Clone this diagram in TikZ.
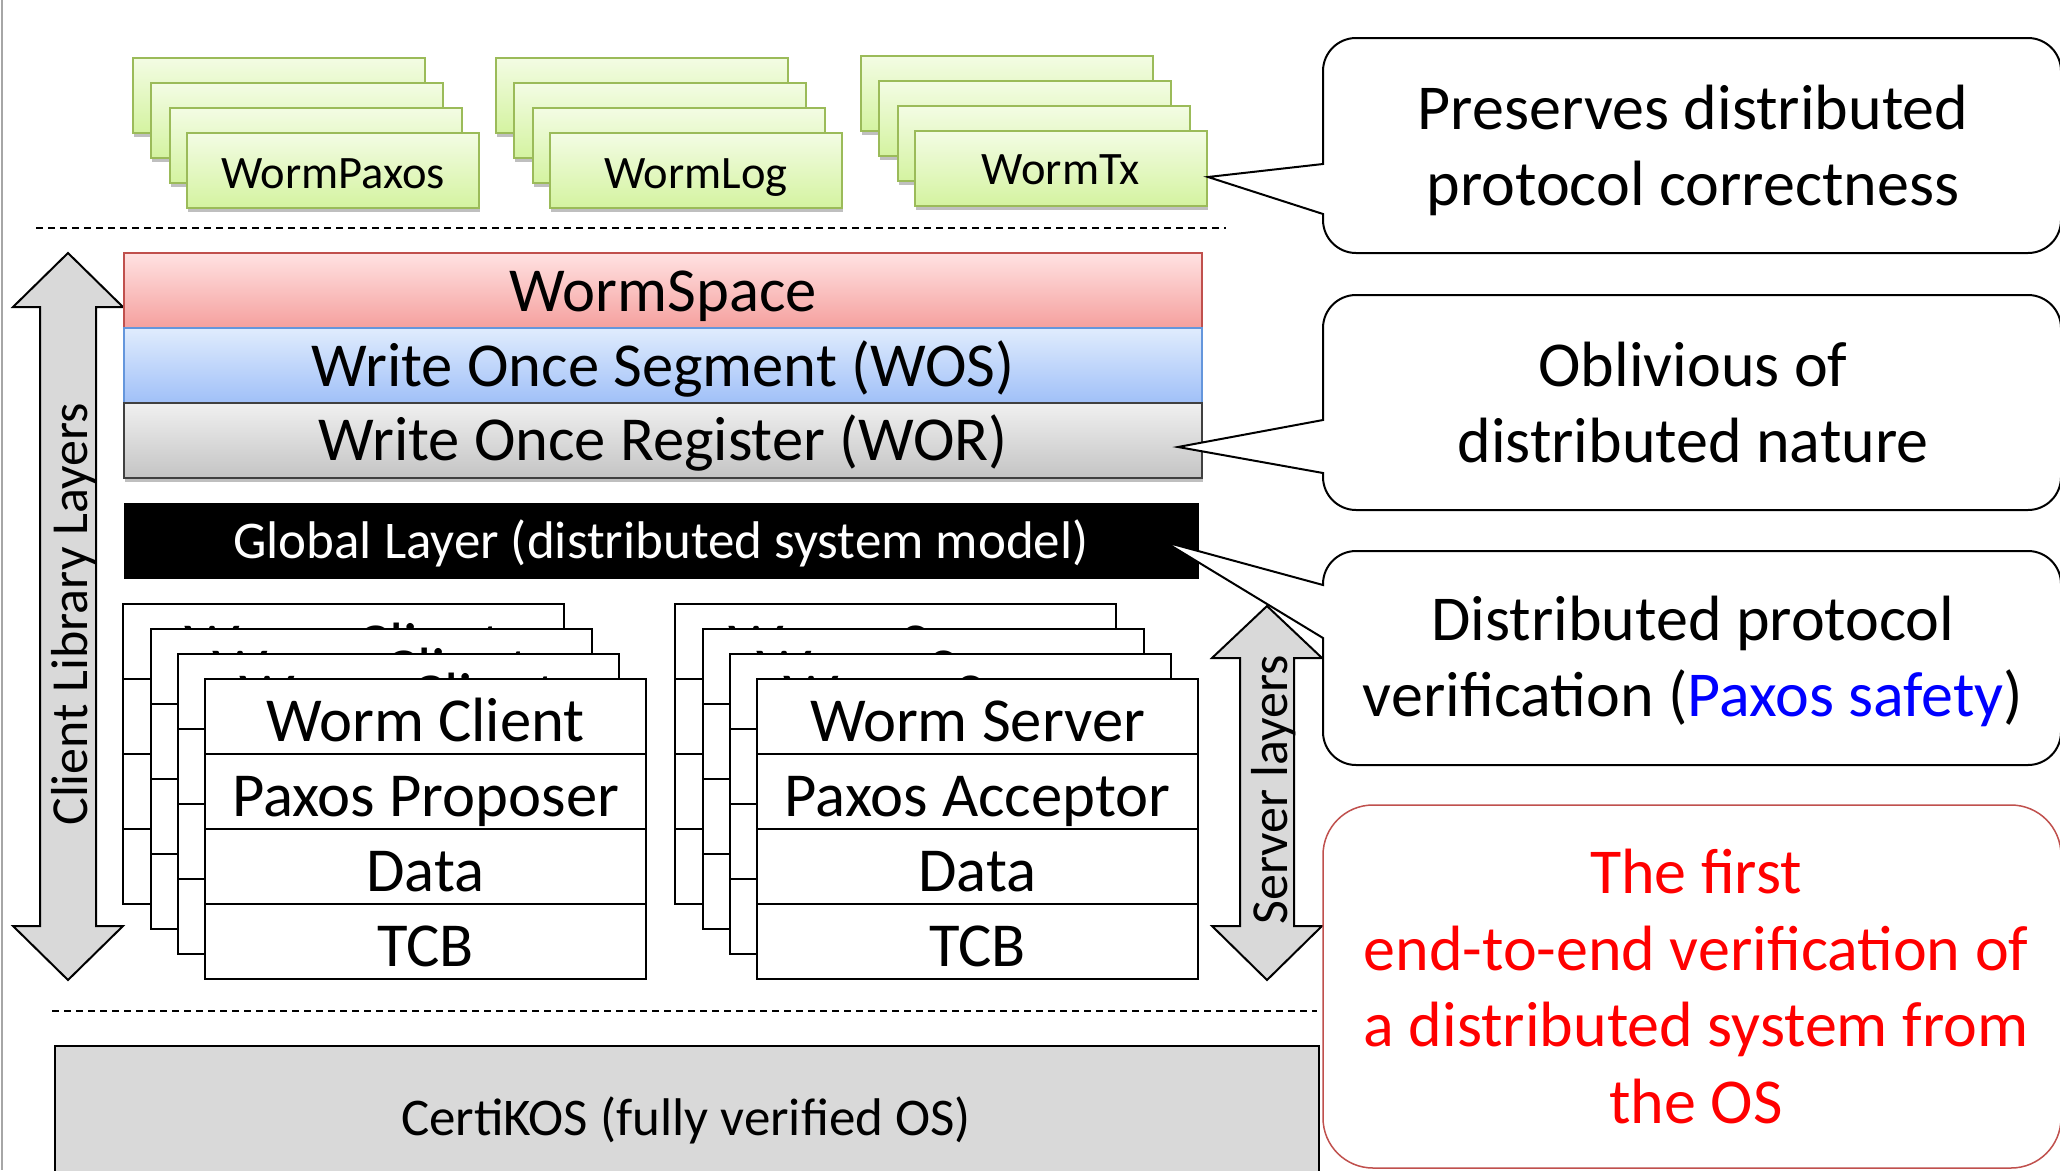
\documentclass[tikz,border=0pt]{standalone}
\usepackage{fontspec}
\setmainfont{Carlito}
\usetikzlibrary{shadows}
\definecolor{grnTop}{RGB}{243,252,228}
\definecolor{grnBot}{RGB}{212,243,160}
\definecolor{grnLine}{RGB}{155,187,89}
\definecolor{redTop}{RGB}{255,226,226}
\definecolor{redBot}{RGB}{245,160,158}
\definecolor{redLine}{RGB}{192,80,77}
\definecolor{bluTop}{RGB}{224,236,253}
\definecolor{bluBot}{RGB}{160,192,248}
\definecolor{bluLine}{RGB}{100,150,220}
\definecolor{gryTop}{RGB}{240,240,240}
\definecolor{gryBot}{RGB}{196,196,196}
\definecolor{arrowFill}{RGB}{217,217,217}
\definecolor{edgeGray}{RGB}{166,166,166}
\definecolor{txtRed}{RGB}{255,0,0}
\definecolor{txtBlue}{RGB}{0,0,255}
\newcommand\fsz[1]{\fontsize{#1}{#1}\selectfont}
% L R T B r a1 a2 tipx tipy
\newcommand\wedgepath[9]{(#1,#6) -- (#1,{#3+#5}) .. controls (#1,{#3+0.45*#5}) and ({#1+0.45*#5},#3) .. ({#1+#5},#3) -- ({#2-#5},#3) .. controls ({#2-0.45*#5},#3) and (#2,{#3+0.45*#5}) .. (#2,{#3+#5}) -- (#2,{#4-#5}) .. controls (#2,{#4-0.45*#5}) and ({#2-0.45*#5},#4) .. ({#2-#5},#4) -- ({#1+#5},#4) .. controls ({#1+0.45*#5},#4) and (#1,{#4-0.45*#5}) .. (#1,{#4-#5}) -- (#1,#7) -- (#8,#9) -- cycle}
\tikzset{
  greenbox/.style={draw=grnLine, line width=1.5pt, top color=grnTop, bottom color=grnBot,
    minimum width=292pt, minimum height=75pt, inner sep=0pt, outer sep=0pt, anchor=north west,
    drop shadow={shadow xshift=1pt, shadow yshift=-4pt, opacity=0.25, fill=black}},
  greentxt/.style={anchor=base, inner sep=0pt, font=\fsz{46.5}},
  barbox/.style={line width=2pt, minimum width=1078pt, minimum height=75pt, inner sep=0pt,
    outer sep=0pt, anchor=north west},
  bartxt/.style={anchor=base, inner sep=0pt, font=\fsz{62.6}},
  stackbox/.style={draw=black, fill=white, line width=2.5pt, minimum width=441pt,
    minimum height=300pt, inner sep=0pt, outer sep=0pt, anchor=north west},
  stackline/.style={draw=black, line width=2.5pt},
  rowtxt/.style={anchor=base, inner sep=0pt, font=\fsz{62.6}},
  blockarrow/.style={draw=black, fill=arrowFill, line width=2pt, line join=miter},
  sidetxt/.style={anchor=base, inner sep=0pt, rotate=90, font=\fsz{52}},
  callout/.style={draw=black, fill=white, line width=2pt, line join=miter},
  redcallout/.style={draw=redLine, fill=white, line width=1.5pt},
  calltxt/.style={anchor=base, inner sep=0pt, font=\fsz{64}},
  sep/.style={draw=black, line width=2.5pt, dash pattern=on 7pt off 5pt}
}
\begin{document}
\begin{tikzpicture}[x=1pt, y=-1pt]
\useasboundingbox (0,0) rectangle (2060,1170);
\clip (0,0) rectangle (2060,1170);
\fill[white] (0,0) rectangle (2060,1170);
\draw[edgeGray, line width=2.5pt] (2,0) -- (2,1170);

% green stacks
\foreach \j/\x/\y in {1/133/58,2/151/83,3/170/108,4/187/133}
  \node[greenbox] (gp\j) at (\x,\y) {};
\node[greentxt] (tp) at ([yshift=-55pt]gp4.north) {WormPaxos};
\foreach \j/\x/\y in {1/496/58,2/514/83,3/533/108,4/550/133}
  \node[greenbox] (gl\j) at (\x,\y) {};
\node[greentxt] (tl) at ([yshift=-55pt]gl4.north) {WormLog};
\foreach \j/\x/\y in {1/861/56,2/879/81,3/898/106,4/915/131}
  \node[greenbox] (gt\j) at (\x,\y) {};
\node[greentxt] (tt) at ([yshift=-53pt]gt4.north) {WormTx};

% separators
\draw[sep] (36,228) -- (1226,228);
\draw[sep] (52,1011) -- (1317,1011);

% client library arrow
\draw[blockarrow] (68,253) -- (123,307) -- (96,307) -- (96,926) -- (123,926) -- (68,980)
  -- (13,926) -- (40,926) -- (40,307) -- (13,307) -- cycle;
\node[sidetxt] (cll) at (87,614.5) {Client Library Layers};

% layer bars
\node[barbox, draw=redLine, top color=redTop, bottom color=redBot,
  drop shadow={shadow xshift=1pt, shadow yshift=-4pt, opacity=0.25, fill=black}] (ws) at (124,253) {};
\node[barbox, draw=bluLine, top color=bluTop, bottom color=bluBot,
  drop shadow={shadow xshift=1pt, shadow yshift=-4pt, opacity=0.25, fill=black}] (wos) at (124,328) {};
\node[barbox, draw=black!75, top color=gryTop, bottom color=gryBot,
  drop shadow={shadow xshift=1pt, shadow yshift=-4pt, opacity=0.25, fill=black}] (wor) at (124,403) {};
\node[bartxt] (wst) at (663,311) {WormSpace};
\node[bartxt] (wost) at (663,386) {Write Once Segment (WOS)};
\node[bartxt] (wort) at (663,460) {Write Once Register (WOR)};
\node[barbox, fill=black, minimum width=1075pt, minimum height=76pt] (gl) at (124,503) {};
\node[anchor=base, inner sep=0pt, font=\fsz{53}, text=white] (glt) at (661,558)
  {Global Layer (distributed system model)};

% client stacks (back copies: only the peeking top text)
\foreach \i/\x/\y in {1/123/604,2/151/629,3/178/654}{
  \node[stackbox] (cs\i) at (\x,\y) {};
  \foreach \k in {1,2,3}
    \draw[stackline] ([yshift=-\k*75pt]cs\i.north west) -- ([yshift=-\k*75pt]cs\i.north east);
  \node[rowtxt] (cs\i a) at ([yshift=-62.5pt]cs\i.north) {Worm Client};
}
\node[stackbox] (cs4) at (205,679) {};
\foreach \k in {1,2,3}
  \draw[stackline] ([yshift=-\k*75pt]cs4.north west) -- ([yshift=-\k*75pt]cs4.north east);
\node[rowtxt] (cs4a) at ([yshift=-62.5pt]cs4.north) {Worm Client};
\node[rowtxt] (cs4b) at ([yshift=-137.5pt]cs4.north) {Paxos Proposer};
\node[rowtxt] (cs4c) at ([yshift=-212.5pt]cs4.north) {Data};
\node[rowtxt] (cs4d) at ([yshift=-287.5pt]cs4.north) {TCB};

% server stacks
\foreach \i/\x/\y in {1/675/604,2/703/629,3/730/654}{
  \node[stackbox] (ss\i) at (\x,\y) {};
  \foreach \k in {1,2,3}
    \draw[stackline] ([yshift=-\k*75pt]ss\i.north west) -- ([yshift=-\k*75pt]ss\i.north east);
  \node[rowtxt] (ss\i a) at ([yshift=-62.5pt]ss\i.north) {Worm Server};
}
\node[stackbox] (ss4) at (757,679) {};
\foreach \k in {1,2,3}
  \draw[stackline] ([yshift=-\k*75pt]ss4.north west) -- ([yshift=-\k*75pt]ss4.north east);
\node[rowtxt] (ss4a) at ([yshift=-62.5pt]ss4.north) {Worm Server};
\node[rowtxt] (ss4b) at ([yshift=-137.5pt]ss4.north) {Paxos Acceptor};
\node[rowtxt] (ss4c) at ([yshift=-212.5pt]ss4.north) {Data};
\node[rowtxt] (ss4d) at ([yshift=-287.5pt]ss4.north) {TCB};

% server layers arrow
\draw[blockarrow] (1267,606) -- (1322,658) -- (1294,658) -- (1294,926) -- (1322,926) -- (1267,980)
  -- (1212,926) -- (1240,926) -- (1240,658) -- (1212,658) -- cycle;
\node[sidetxt] (svl) at (1287,790) {Server layers};

% CertiKOS
\node[draw=black, fill=arrowFill, line width=2pt, anchor=north west, minimum width=1264pt,
  minimum height=200pt, inner sep=0pt] (os) at (54,1045) {};
\node[anchor=base, inner sep=0pt, font=\fsz{53}] (ost) at (686,1135) {CertiKOS (fully verified OS)};

% callouts
\draw[callout] \wedgepath{1323}{2061}{38}{253}{33}{164}{214}{1208}{177};
\node[calltxt] (c1a) at (1693,129) {Preserves distributed};
\node[calltxt] (c1b) at (1693,205) {protocol correctness};

\draw[callout] \wedgepath{1323}{2061}{295}{510}{33}{420}{473}{1178}{447};
\node[calltxt] (c2a) at (1693,386) {Oblivious of};
\node[calltxt] (c2b) at (1693,462) {distributed nature};

\draw[callout] \wedgepath{1323}{2061}{551}{765}{33}{585}{638}{1165}{542};
\node[calltxt] (c3a) at (1693,640) {Distributed protocol};
\node[calltxt] (c3b) at (1693,716) {verification (\textcolor{txtBlue}{Paxos safety})};

\draw[redcallout, rounded corners=50pt] (1323,805) rectangle (2061,1168);
\node[calltxt, text=txtRed] (c4a) at (1696,893) {The first};
\node[calltxt, text=txtRed] (c4b) at (1696,970) {end-to-end verification of};
\node[calltxt, text=txtRed] (c4c) at (1696,1046) {a distributed system from};
\node[calltxt, text=txtRed] (c4d) at (1696,1123) {the OS};
\end{tikzpicture}
\end{document}
